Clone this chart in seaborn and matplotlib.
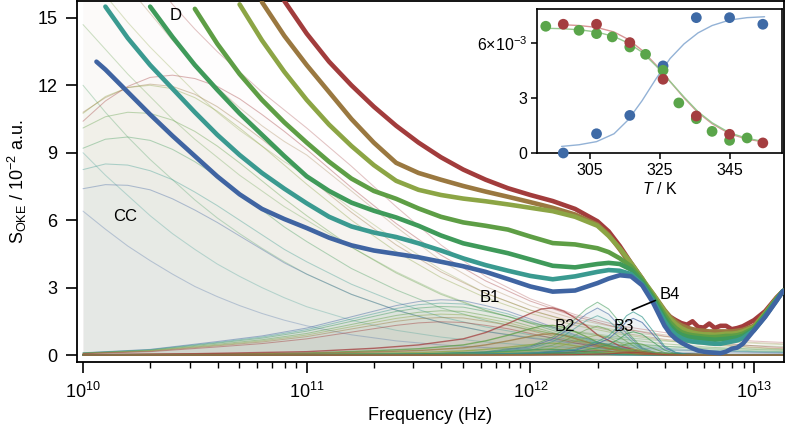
import numpy as np
import pandas as pd
import matplotlib
matplotlib.use("Agg")
import matplotlib.pyplot as plt
import seaborn as sns

# colours per temperature, low (blue) -> high (red)
TEMP_COLORS = ["#3f64a2", "#3a9a90", "#3f9a5a", "#5e9e45", "#8ca545", "#9a7840", "#a23c3c"]

# ---- measured spectra (thick lines), log10(frequency) grid ----
LOGF = [10.06, 10.1, 10.2, 10.3, 10.4, 10.5, 10.6, 10.7, 10.8, 10.9,
        11.0, 11.1, 11.2, 11.3, 11.4, 11.5, 11.6, 11.7, 11.8, 11.9,
        12.0, 12.1, 12.2, 12.3, 12.35, 12.4, 12.45, 12.5, 12.55, 12.6,
        12.625, 12.65, 12.675, 12.7, 12.725, 12.75, 12.775, 12.8, 12.825, 12.85,
        12.875, 12.9, 12.925, 12.95, 13.0, 13.05, 13.1, 13.13]
nan = np.nan
SPEC_BLUE = [13.05, 12.7, 11.7, 10.7, 9.75, 8.85, 7.95, 7.15, 6.5, 6.05,
             5.65, 5.22, 4.88, 4.65, 4.5, 4.35, 4.15, 3.95, 3.7, 3.38,
             3.05, 2.82, 2.87, 3.2, 3.4, 3.55, 3.5, 3.1, 2.3, 1.3,
             0.95, 0.72, 0.55, 0.42, 0.3, 0.2, 0.15, 0.12, 0.1, 0.08,
             0.15, 0.28, 0.33, 0.5, 1.1, 1.7, 2.4, 2.85]
SPEC_TEAL = [nan, 15.5, 14.1, 12.9, 11.85, 10.8, 9.8, 8.9, 8.1, 7.4,
             6.75, 6.15, 5.72, 5.45, 5.25, 4.97, 4.65, 4.3, 4.0, 3.75,
             3.52, 3.37, 3.5, 3.7, 3.78, 3.75, 3.6, 3.15, 2.4, 1.5,
             1.15, 0.9, 0.75, 0.65, 0.6, 0.57, 0.55, 0.52, 0.5, 0.5,
             0.55, 0.6, 0.65, 0.75, 1.1, 1.72, 2.42, 2.85]
SPEC_GREEN1 = [nan, nan, nan, 15.5, 14.15, 12.9, 11.8, 10.75, 9.8, 8.85,
               7.95, 7.3, 6.78, 6.42, 6.12, 5.75, 5.32, 4.97, 4.75, 4.53,
               4.25, 3.97, 3.9, 4.05, 4.1, 4.05, 3.8, 3.25, 2.5, 1.65,
               1.3, 1.05, 0.9, 0.82, 0.78, 0.75, 0.72, 0.7, 0.68, 0.7,
               0.72, 0.75, 0.78, 0.85, 1.15, 1.78, 2.45, 2.85]
SPEC_GREEN2 = [nan, nan, nan, nan, nan, 15.4, 13.85, 12.5, 11.35, 10.35,
               9.45, 8.6, 7.85, 7.3, 6.95, 6.52, 6.15, 5.9, 5.75, 5.58,
               5.27, 4.98, 4.92, 4.75, 4.58, 4.3, 3.95, 3.35, 2.6, 1.8,
               1.45, 1.2, 1.02, 0.93, 0.88, 0.85, 0.82, 0.8, 0.8, 0.82,
               0.85, 0.85, 0.88, 0.95, 1.2, 1.8, 2.48, 2.85]
SPEC_OLIVE = [nan, nan, nan, nan, nan, nan, nan, 15.6, 14.0, 12.6,
              11.35, 10.25, 9.3, 8.45, 7.75, 7.35, 7.12, 6.96, 6.84, 6.7,
              6.55, 6.4, 6.15, 5.75, 5.3, 4.75, 4.1, 3.4, 2.7, 1.95,
              1.62, 1.38, 1.2, 1.08, 1.0, 0.95, 0.92, 0.92, 0.9, 0.92,
              0.95, 0.95, 0.98, 1.05, 1.25, 1.85, 2.5, 2.85]
SPEC_BROWN = [nan, nan, nan, nan, nan, nan, nan, nan, 15.7, 14.2,
              12.9, 11.7, 10.5, 9.45, 8.55, 8.1, 7.8, 7.52, 7.27, 7.04,
              6.8, 6.55, 6.25, 5.8, 5.35, 4.7, 4.0, 3.35, 2.7, 2.0,
              1.7, 1.48, 1.32, 1.22, 1.15, 1.1, 1.08, 1.05, 1.05, 1.05,
              1.05, 1.05, 1.08, 1.12, 1.3, 1.88, 2.52, 2.85]
SPEC_RED = [nan, nan, nan, nan, nan, nan, nan, nan, nan, 15.75,
            14.3, 13.05, 12.0, 11.05, 10.2, 9.45, 8.8, 8.25, 7.8, 7.42,
            7.12, 6.85, 6.5, 5.95, 5.5, 4.85, 4.1, 3.4, 2.55, 1.9,
            1.7, 1.55, 1.42, 1.35, 1.5, 1.25, 1.22, 1.4, 1.2, 1.3,
            1.3, 1.15, 1.2, 1.28, 1.55, 1.95, 2.55, 2.85]
SPECTRA = [SPEC_BLUE, SPEC_TEAL, SPEC_GREEN1, SPEC_GREEN2, SPEC_OLIVE, SPEC_BROWN, SPEC_RED]

# ---- fitted components (thin lines) ----
TL = [10.0, 10.1, 10.2, 10.3, 10.4, 10.5, 10.6, 10.7, 10.8, 10.9, 11.0,
      11.2, 11.4, 11.6, 11.8, 12.0, 12.2, 12.4, 12.6, 12.8, 13.0, 13.13]
CC_ROWS = [
    [7.4, 7.58, 7.55, 7.35, 6.95, 6.45, 5.9, 5.3, 4.7, 4.1, 3.6, 2.7, 2.0, 1.45, 1.05, 0.75, 0.52, 0.36, 0.25, 0.17, 0.12, 0.1],
    [8.25, 8.5, 8.45, 8.2, 7.8, 7.25, 6.65, 6.0, 5.35, 4.7, 4.15, 3.15, 2.35, 1.7, 1.25, 0.9, 0.63, 0.44, 0.3, 0.21, 0.15, 0.12],
    [9.2, 9.6, 9.7, 9.55, 9.15, 8.6, 7.95, 7.2, 6.45, 5.7, 5.05, 3.85, 2.9, 2.1, 1.55, 1.12, 0.8, 0.56, 0.39, 0.27, 0.19, 0.15],
    [10.1, 10.6, 10.8, 10.75, 10.45, 9.95, 9.3, 8.55, 7.75, 6.95, 6.2, 4.8, 3.65, 2.7, 1.98, 1.43, 1.02, 0.72, 0.5, 0.35, 0.25, 0.2],
    [10.75, 11.5, 11.9, 12.0, 11.85, 11.45, 10.85, 10.1, 9.3, 8.45, 7.6, 6.0, 4.6, 3.45, 2.55, 1.85, 1.32, 0.93, 0.65, 0.45, 0.32, 0.26],
    [10.8, 11.45, 11.9, 12.05, 11.95, 11.6, 11.05, 10.35, 9.6, 8.8, 7.95, 6.35, 4.9, 3.7, 2.75, 2.0, 1.43, 1.0, 0.7, 0.49, 0.35, 0.28],
    [10.4, 11.3, 11.95, 12.35, 12.45, 12.3, 11.95, 11.4, 10.7, 9.95, 9.15, 7.45, 5.85, 4.45, 3.3, 2.4, 1.72, 1.2, 0.84, 0.58, 0.41, 0.33],
]
D_ROWS = [
    [6.4, 5.6, 4.85, 4.2, 3.6, 3.05, 2.6, 2.2, 1.85, 1.55, 1.3, 0.9, 0.63, 0.45, 0.33, 0.25, 0.19, 0.15, 0.12, 0.1, 0.08, 0.07],
    [9.0, 8.0, 7.1, 6.2, 5.4, 4.7, 4.05, 3.5, 3.0, 2.55, 2.15, 1.55, 1.1, 0.8, 0.58, 0.43, 0.33, 0.26, 0.21, 0.17, 0.15, 0.13],
    [12.0, 10.8, 9.7, 8.7, 7.8, 6.9, 6.1, 5.4, 4.75, 4.15, 3.6, 2.7, 2.0, 1.45, 1.05, 0.78, 0.6, 0.47, 0.38, 0.31, 0.27, 0.24],
    [14.7, 13.6, 12.5, 11.5, 10.5, 9.6, 8.8, 8.0, 7.3, 6.6, 6.0, 4.8, 3.7, 2.75, 2.0, 1.45, 1.05, 0.8, 0.62, 0.5, 0.42, 0.38],
    [17.0, 16.0, 14.8, 13.7, 12.7, 11.7, 10.8, 10.0, 9.3, 8.6, 8.0, 6.5, 5.1, 3.8, 2.75, 2.0, 1.45, 1.08, 0.82, 0.64, 0.52, 0.46],
    [19.0, 17.7, 16.4, 15.2, 14.0, 12.9, 11.9, 11.0, 10.2, 9.5, 8.9, 7.3, 5.7, 4.2, 3.05, 2.2, 1.6, 1.2, 0.9, 0.7, 0.56, 0.5],
    [20.5, 19.4, 18.2, 16.9, 15.6, 14.5, 13.5, 12.6, 11.7, 10.9, 10.1, 8.4, 6.6, 4.9, 3.5, 2.5, 1.8, 1.3, 1.0, 0.78, 0.62, 0.56],
]
B1L = [10.0, 10.3, 10.6, 10.8, 11.0, 11.2, 11.4, 11.5, 11.6, 11.7, 11.8,
       11.9, 12.0, 12.1, 12.2, 12.3, 12.4, 12.5, 12.6, 12.8, 13.13]
B1_ROWS = [
    [0.1, 0.25, 0.6, 0.85, 1.2, 1.7, 2.2, 2.38, 2.46, 2.42, 2.2, 1.95, 1.6, 1.25, 0.9, 0.58, 0.33, 0.17, 0.08, 0.03, 0.0],
    [0.09, 0.24, 0.56, 0.8, 1.13, 1.6, 2.07, 2.24, 2.31, 2.27, 2.07, 1.83, 1.5, 1.18, 0.85, 0.55, 0.31, 0.16, 0.08, 0.03, 0.0],
    [0.09, 0.22, 0.53, 0.75, 1.06, 1.5, 1.94, 2.09, 2.16, 2.13, 1.94, 1.72, 1.41, 1.1, 0.79, 0.51, 0.29, 0.15, 0.07, 0.03, 0.0],
    [0.08, 0.2, 0.48, 0.68, 0.96, 1.36, 1.76, 1.9, 1.97, 1.94, 1.76, 1.56, 1.28, 1.0, 0.72, 0.46, 0.26, 0.14, 0.06, 0.02, 0.0],
    [0.07, 0.19, 0.44, 0.63, 0.89, 1.26, 1.63, 1.76, 1.82, 1.79, 1.63, 1.44, 1.18, 0.93, 0.67, 0.43, 0.24, 0.13, 0.06, 0.02, 0.0],
    [0.07, 0.17, 0.41, 0.58, 0.82, 1.16, 1.5, 1.62, 1.67, 1.65, 1.5, 1.33, 1.09, 0.85, 0.61, 0.39, 0.22, 0.12, 0.05, 0.02, 0.0],
    [0.06, 0.15, 0.36, 0.51, 0.72, 1.02, 1.32, 1.43, 1.48, 1.45, 1.32, 1.17, 0.96, 0.75, 0.54, 0.35, 0.2, 0.1, 0.05, 0.02, 0.0],
]
B2L = [10.0, 10.5, 11.0, 11.3, 11.5, 11.7, 11.8, 11.9, 12.0, 12.05,
       12.1, 12.15, 12.2, 12.25, 12.3, 12.4, 12.5, 12.6, 12.8, 13.13]
B2_ROWS = [
    [0.0, 0.0, 0.01, 0.01, 0.02, 0.03, 0.04, 0.06, 0.07, 0.08, 0.08, 0.08, 0.07, 0.05, 0.04, 0.02, 0.01, 0.0, 0.0, 0.0],
    [0.0, 0.0, 0.01, 0.02, 0.03, 0.04, 0.06, 0.08, 0.11, 0.12, 0.13, 0.12, 0.1, 0.08, 0.05, 0.02, 0.01, 0.0, 0.0, 0.0],
    [0.0, 0.01, 0.02, 0.04, 0.05, 0.09, 0.12, 0.17, 0.22, 0.25, 0.25, 0.23, 0.2, 0.16, 0.11, 0.05, 0.02, 0.01, 0.0, 0.0],
    [0.01, 0.04, 0.09, 0.19, 0.28, 0.45, 0.63, 0.88, 1.17, 1.29, 1.32, 1.23, 1.04, 0.82, 0.57, 0.25, 0.09, 0.04, 0.01, 0.0],
    [0.01, 0.02, 0.04, 0.08, 0.11, 0.18, 0.25, 0.35, 0.46, 0.51, 0.53, 0.49, 0.41, 0.33, 0.23, 0.1, 0.04, 0.02, 0.0, 0.0],
    [0.01, 0.03, 0.07, 0.14, 0.2, 0.32, 0.45, 0.63, 0.83, 0.92, 0.95, 0.88, 0.74, 0.59, 0.41, 0.18, 0.07, 0.03, 0.01, 0.0],
    [0.02, 0.06, 0.15, 0.3, 0.45, 0.72, 1.0, 1.4, 1.85, 2.05, 2.1, 1.95, 1.65, 1.3, 0.9, 0.4, 0.15, 0.06, 0.02, 0.0],
]
B3L = [10.0, 11.5, 11.8, 12.0, 12.1, 12.15, 12.2, 12.25, 12.3, 12.35,
       12.4, 12.45, 12.5, 12.55, 12.6, 12.8, 13.13]
B3_ROWS = [
    [0.0, 0.04, 0.13, 0.36, 0.71, 1.02, 1.42, 1.82, 2.09, 1.82, 1.29, 0.76, 0.29, 0.12, 0.04, 0.01, 0.0],
    [0.0, 0.04, 0.11, 0.3, 0.6, 0.86, 1.19, 1.53, 1.75, 1.53, 1.08, 0.63, 0.25, 0.1, 0.04, 0.01, 0.0],
    [0.0, 0.05, 0.15, 0.4, 0.8, 1.15, 1.6, 2.05, 2.35, 2.05, 1.45, 0.85, 0.33, 0.13, 0.05, 0.01, 0.0],
    [0.0, 0.03, 0.08, 0.22, 0.44, 0.63, 0.88, 1.13, 1.29, 1.13, 0.8, 0.47, 0.18, 0.07, 0.03, 0.01, 0.0],
    [0.0, 0.02, 0.06, 0.15, 0.3, 0.44, 0.61, 0.78, 0.89, 0.78, 0.55, 0.32, 0.13, 0.05, 0.02, 0.0, 0.0],
    [0.0, 0.01, 0.03, 0.08, 0.17, 0.24, 0.34, 0.43, 0.49, 0.43, 0.3, 0.18, 0.07, 0.03, 0.01, 0.0, 0.0],
    [0.0, 0.0, 0.01, 0.03, 0.07, 0.1, 0.14, 0.17, 0.2, 0.17, 0.12, 0.07, 0.03, 0.01, 0.0, 0.0, 0.0],
]
B4L = [10.0, 11.6, 12.0, 12.2, 12.3, 12.35, 12.4, 12.43, 12.46, 12.5,
       12.55, 12.6, 12.65, 12.7, 12.8, 13.13]
B4_ROWS = [
    [0.0, 0.02, 0.07, 0.21, 0.51, 0.72, 1.15, 1.49, 1.63, 1.45, 0.89, 0.34, 0.1, 0.03, 0.01, 0.0],
    [0.0, 0.02, 0.08, 0.25, 0.6, 0.85, 1.35, 1.75, 1.92, 1.7, 1.05, 0.4, 0.12, 0.04, 0.01, 0.0],
    [0.0, 0.01, 0.04, 0.14, 0.32, 0.46, 0.73, 0.95, 1.04, 0.92, 0.57, 0.22, 0.06, 0.02, 0.01, 0.0],
    [0.0, 0.01, 0.02, 0.07, 0.17, 0.24, 0.38, 0.49, 0.54, 0.48, 0.29, 0.11, 0.03, 0.01, 0.0, 0.0],
    [0.0, 0.0, 0.01, 0.03, 0.08, 0.11, 0.18, 0.23, 0.25, 0.22, 0.14, 0.05, 0.02, 0.01, 0.0, 0.0],
    [0.0, 0.0, 0.01, 0.02, 0.04, 0.06, 0.09, 0.12, 0.13, 0.12, 0.07, 0.03, 0.01, 0.0, 0.0, 0.0],
    [0.0, 0.0, 0.0, 0.02, 0.04, 0.05, 0.08, 0.1, 0.12, 0.1, 0.06, 0.02, 0.01, 0.0, 0.0, 0.0],
]

# ---- inset: amplitudes vs temperature ----
T_BLUE = [297.5, 307, 316.5, 326, 335.5, 345, 354.5]
A_BLUE = [0.0, 1.05, 2.05, 4.75, 7.38, 7.38, 7.02]
T_RED = [297.5, 307, 316.5, 326, 335.5, 345, 354.5]
A_RED = [7.02, 7.02, 6.02, 4.02, 2.02, 1.02, 0.55]
T_GREEN = [292.5, 302, 307, 311.5, 316.5, 321, 326, 330.5, 335.5, 340, 345, 350]
A_GREEN = [6.91, 6.69, 6.51, 6.33, 5.78, 5.38, 4.51, 2.73, 1.87, 1.18, 0.69, 0.82]
T_FIT = [297, 302, 307, 312, 316, 320, 324, 328, 332, 336, 340, 345, 350, 355]
FIT_BLUE = [0.36, 0.45, 0.62, 1.05, 1.8, 2.85, 4.05, 5.15, 5.95, 6.55, 6.95, 7.25, 7.38, 7.43]
FIT_RED = [7.0, 6.95, 6.85, 6.6, 6.2, 5.6, 4.8, 3.9, 3.0, 2.2, 1.6, 1.05, 0.75, 0.6]
T_FIT_G = [292.5, 297, 302, 307, 312, 316, 320, 324, 328, 332, 336, 340, 345, 350, 355]
FIT_GREEN = [6.8, 6.78, 6.72, 6.6, 6.35, 6.0, 5.5, 4.75, 3.9, 3.05, 2.25, 1.65, 1.1, 0.8, 0.62]

sns.set_style("ticks")
plt.rcParams["font.family"] = ["Liberation Sans", "DejaVu Sans"]
plt.rcParams["mathtext.fontset"] = "custom"
plt.rcParams["mathtext.rm"] = "Liberation Sans"
plt.rcParams["mathtext.it"] = "Liberation Sans:italic"
for key in ["text.color", "axes.labelcolor", "xtick.color", "ytick.color", "axes.edgecolor"]:
    plt.rcParams[key] = "black"

fig = plt.figure(figsize=(7.88, 4.28), dpi=100)
ax = fig.add_axes([0.0977, 0.1542, 0.8972, 0.8435])


def draw_components(logf, rows, fill_alpha, line_alpha=0.38, lw=0.75):
    f = 10 ** np.asarray(logf)
    for vals, col in zip(rows, TEMP_COLORS):
        v = np.asarray(vals)
        ax.fill_between(f, 0, v, color=col, alpha=fill_alpha, lw=0, zorder=1)
        sns.lineplot(x=f, y=v, color=col, alpha=line_alpha, lw=lw,
                     estimator=None, sort=False, ax=ax, zorder=2)


draw_components(TL, D_ROWS, 0.006, 0.3)
draw_components(TL, CC_ROWS, 0.012)
draw_components(B1L, B1_ROWS, 0.025, 0.45)
draw_components(B2L, B2_ROWS, 0.07, 0.75, 1.0)
draw_components(B3L, B3_ROWS, 0.045, 0.55)
draw_components(B4L, B4_ROWS, 0.045, 0.7)

# thick spectra, red first so blue lies on top
for vals, col in zip(SPECTRA[::-1], TEMP_COLORS[::-1]):
    df = pd.DataFrame({"freq": 10 ** np.asarray(LOGF), "s": vals}).dropna()
    sns.lineplot(data=df, x="freq", y="s", color=col, lw=3.3,
                 estimator=None, sort=False, ax=ax, zorder=3)

ax.set_xscale("log")
ax.set_xlim(10 ** 9.973, 10 ** 13.134)
ax.set_ylim(-0.31, 15.75)
ax.set_yticks([0, 3, 6, 9, 12, 15])
ax.set_xlabel("Frequency (Hz)", fontsize=13, labelpad=4)
ax.set_ylabel(r"$\mathdefault{S_{OKE}}$ / $\mathdefault{10^{-2}}$ a.u.", fontsize=13, labelpad=6)
ax.tick_params(axis="both", which="major", labelsize=13, length=8, width=1.2,
               direction="out", pad=6, color="black")
ax.tick_params(axis="x", which="minor", length=4.5, width=1.0, direction="out")
for sp in ax.spines.values():
    sp.set_linewidth(1.3)
    sp.set_color("black")

txt = dict(fontsize=12, ha="center", va="center", zorder=5)
ax.text(10 ** 10.19, 6.15, "CC", **txt)
ax.text(10 ** 10.415, 15.1, "D", **txt)
ax.text(10 ** 11.82, 2.55, "B1", **txt)
ax.text(10 ** 12.155, 1.25, "B2", **txt)
ax.text(10 ** 12.42, 1.29, "B3", **txt)
ax.annotate("B4", xy=(10 ** 12.455, 2.0), xytext=(10 ** 12.625, 2.7),
            fontsize=12, ha="center", va="center", zorder=5,
            arrowprops=dict(arrowstyle="-", lw=1.2, color="black", shrinkA=1, shrinkB=0))

# ---- inset ----
ins = fig.add_axes([0.6815, 0.6425, 0.311, 0.3364])
ins.set_facecolor("white")
sns.lineplot(x=T_FIT, y=FIT_BLUE, color="#93b2d6", lw=1.0, estimator=None, sort=False, ax=ins)
sns.lineplot(x=T_FIT, y=FIT_RED, color="#d89595", lw=1.0, estimator=None, sort=False, ax=ins)
sns.lineplot(x=T_FIT_G, y=FIT_GREEN, color="#96c98e", lw=1.0, estimator=None, sort=False, ax=ins)
sns.scatterplot(x=T_BLUE, y=A_BLUE, color="#3e6aa6", s=60, edgecolor="none", ax=ins, clip_on=False, zorder=4)
sns.scatterplot(x=T_GREEN, y=A_GREEN, color="#5aa54a", s=60, edgecolor="none", ax=ins, clip_on=False, zorder=4)
sns.scatterplot(x=T_RED, y=A_RED, color="#a43e40", s=60, edgecolor="none", ax=ins, clip_on=False, zorder=4)
ins.set_xlim(290, 360)
ins.set_ylim(0, 7.85)
ins.set_xticks([305, 325, 345])
ins.set_yticks([0, 3, 6])
ins.set_yticklabels(["0", "3", r"6×$\mathdefault{10^{-3}}$"])
ins.set_xlabel(r"$\mathit{T}$ / K", fontsize=11.5, labelpad=2)
ins.tick_params(labelsize=11.5, length=4, width=1.1, direction="out", pad=3)
for sp in ins.spines.values():
    sp.set_linewidth(1.2)
    sp.set_color("black")

fig.savefig("out.png", dpi=100)
